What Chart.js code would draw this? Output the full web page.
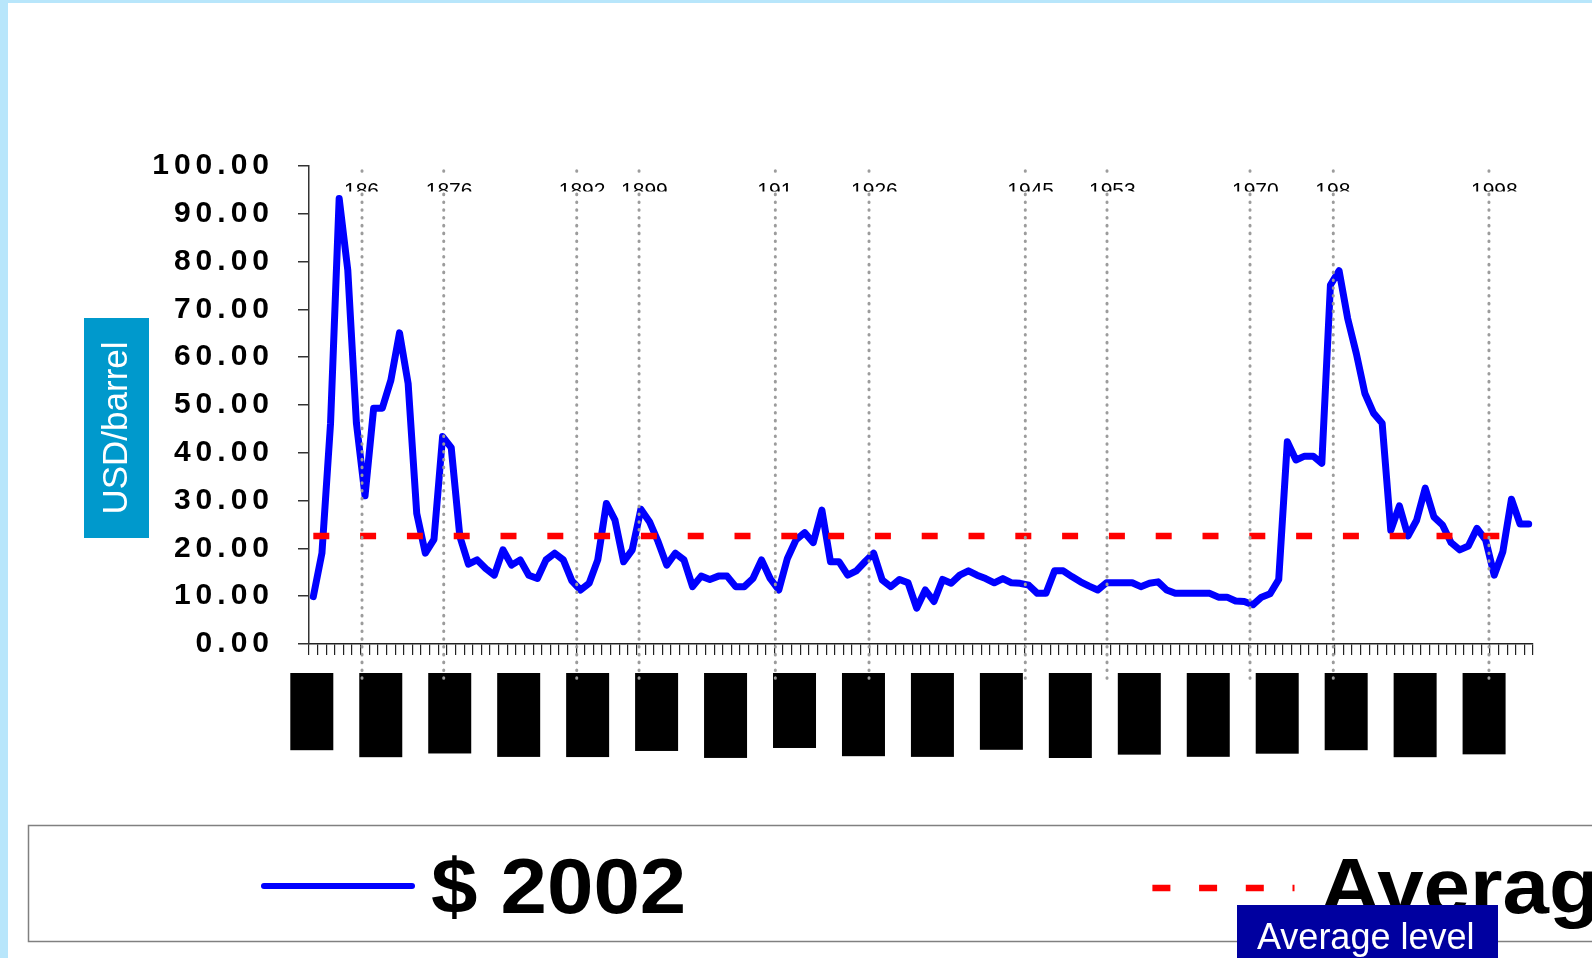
<!DOCTYPE html>
<html>
<head>
<meta charset="utf-8">
<script src="https://cdn.jsdelivr.net/npm/chart.js@4.4.1/dist/chart.umd.min.js"></script>
<style>
  html, body { margin: 0; padding: 0; background: #ffffff; }
  body { width: 1592px; height: 958px; overflow: hidden; position: relative; }
  #edgeLeft { position: absolute; left: 0; top: 0; width: 8px; height: 958px; background: #b8e6fb; }
  #edgeTop { position: absolute; left: 0; top: 0; width: 1592px; height: 3px; background: #b8e6fb; }
  #chart { position: absolute; left: 0; top: 0; }
</style>
</head>
<body>
<div id="edgeLeft"></div>
<div id="edgeTop"></div>
<canvas id="chart" width="1592" height="958"></canvas>
<script>
// Crude oil price, USD per barrel in 2002 money, yearly 1861-2002
const firstYear = 1861;
const lastYear = 2002;
const years = [];
for (let y = firstYear; y <= lastYear; y++) years.push(String(y));

const price2002 = [
  9.9, 19.0, 46.2, 93.2, 78.2, 46.2, 31.0, 49.3, 49.3, 55.2,   // 1861-1870
  65.1, 54.5, 27.3, 19.0, 21.9, 43.4, 41.1, 22.5, 16.7, 17.6,  // 1871-1880
  15.8, 14.4, 19.7, 16.5, 17.6, 14.4, 13.7, 17.6, 19.0, 17.6,  // 1881-1890
  13.2, 11.3, 12.7, 17.6, 29.4, 25.9, 17.2, 19.7, 28.2, 25.6,  // 1891-1900
  21.4, 16.5, 19.0, 17.6, 12.0, 14.2, 13.5, 14.2, 14.2, 12.0,  // 1901-1910
  12.0, 13.7, 17.6, 13.7, 11.3, 17.9, 21.8, 23.3, 21.2, 28.0,  // 1911-1920
  17.2, 17.2, 14.4, 15.3, 17.2, 19.0, 13.4, 12.0, 13.5, 12.8,  // 1921-1930
  7.5, 11.3, 8.9, 13.5, 12.7, 14.4, 15.3, 14.4, 13.7, 12.8,    // 1931-1940
  13.7, 12.8, 12.7, 12.3, 10.6, 10.6, 15.3, 15.3, 14.1, 13.0,  // 1941-1950
  12.1, 11.3, 12.8, 12.8, 12.8, 12.8, 12.0, 12.7, 13.0, 11.3,  // 1951-1960
  10.6, 10.6, 10.6, 10.6, 10.6, 9.8, 9.8, 9.0, 8.9, 8.2,       // 1961-1970
  9.8, 10.5, 13.5, 42.3, 38.5, 39.3, 39.3, 37.8, 75.1, 78.1,   // 1971-1980
  68.1, 60.8, 52.4, 48.3, 46.2, 23.8, 28.9, 22.6, 25.9, 32.6,  // 1981-1990
  26.6, 24.9, 21.2, 19.7, 20.5, 24.2, 21.8, 14.4, 19.3, 30.3,  // 1991-2000
  25.1, 25.1                                                   // 2001-2002
];

// Long-run average price over the whole period
const averageLevel = 22.6;

// Dotted event markers: position on the year axis and their captions
const eventPositions = [1866.65, 1876.13, 1891.56, 1898.79, 1914.6, 1925.47, 1943.6, 1953.08, 1969.67, 1979.33, 1997.39];
const eventLabels = ['186', '1876', '1892', '1899', '191', '1926', '1945', '1953', '1970', '198', '1998'];

const seriesLabels = ['$ 2002', 'Average level'];
const yAxisTitle = 'USD/barrel';

const FONT = "'Liberation Sans', Arial, sans-serif";

// Wide letter spacing for the value axis labels only
const spacedAxisText = {
  id: 'spacedAxisText',
  beforeDraw(chart) { chart.ctx.letterSpacing = '5px'; },
  beforeDatasetsDraw(chart) { chart.ctx.letterSpacing = '0px'; }
};

// Vertical dotted markers with their clipped captions
const eventMarkers = {
  id: 'eventMarkers',
  afterDatasetsDraw(chart) {
    const { ctx, chartArea, scales: { x } } = chart;
    ctx.save();
    ctx.letterSpacing = '0px';
    ctx.font = `21px ${FONT}`;
    ctx.textAlign = 'left';
    ctx.textBaseline = 'alphabetic';
    eventPositions.forEach((pos, k) => {
      const px = x.getPixelForValue(pos - firstYear);
      ctx.setLineDash([0.6, 7.2]);
      ctx.lineCap = 'round';
      ctx.lineWidth = 3;
      ctx.strokeStyle = '#9c9c9c';
      ctx.beginPath();
      ctx.moveTo(px, chartArea.top + 4.7);
      ctx.lineTo(px, chartArea.bottom + 36);
      ctx.stroke();
      ctx.setLineDash([]);

      const tx = px - 18;
      const w = ctx.measureText(eventLabels[k]).width;
      const boxTop = chartArea.top + 8.5;
      ctx.fillStyle = '#ffffff';
      ctx.fillRect(tx - 2, boxTop, w + 4, 17);
      ctx.save();
      ctx.beginPath();
      ctx.rect(tx - 2, boxTop, w + 4, 17);
      ctx.clip();
      ctx.fillStyle = '#000000';
      ctx.fillText(eventLabels[k], tx, chartArea.top + 31);
      ctx.restore();
    });
    ctx.restore();
  }
};

// Value axis title on a coloured panel
const axisTitlePanel = {
  id: 'axisTitlePanel',
  afterDraw(chart) {
    const { ctx } = chart;
    ctx.save();
    ctx.letterSpacing = '0px';
    ctx.fillStyle = '#0099cc';
    ctx.fillRect(84, 318, 65, 220);
    ctx.translate(117, 428);
    ctx.rotate(-Math.PI / 2);
    ctx.fillStyle = '#ffffff';
    ctx.font = `35px ${FONT}`;
    ctx.textAlign = 'center';
    ctx.textBaseline = 'middle';
    ctx.fillText(yAxisTitle, 0, 0);
    ctx.restore();
  }
};

// Framed legend along the bottom, plus the tag for the average line
const legendPanel = {
  id: 'legendPanel',
  afterDraw(chart) {
    const { ctx } = chart;
    const [real, avg] = chart.data.datasets;
    ctx.save();
    ctx.letterSpacing = '0px';
    ctx.strokeStyle = '#808080';
    ctx.lineWidth = 1.5;
    ctx.strokeRect(28.5, 825.5, 1600, 116);

    ctx.strokeStyle = real.borderColor;
    ctx.lineWidth = 6;
    ctx.lineCap = 'round';
    ctx.beginPath();
    ctx.moveTo(264, 886);
    ctx.lineTo(412, 886);
    ctx.stroke();

    ctx.font = `bold 78px ${FONT}`;
    ctx.fillStyle = '#000000';
    ctx.textAlign = 'left';
    ctx.textBaseline = 'alphabetic';
    // legend captions are set slightly wide
    ctx.save();
    ctx.translate(431, 913);
    ctx.scale(1.07, 1);
    ctx.fillText(real.label, 0, 0);
    ctx.restore();

    ctx.strokeStyle = avg.borderColor;
    ctx.lineWidth = 6.5;
    ctx.lineCap = 'butt';
    ctx.setLineDash([18, 28.7]);
    ctx.beginPath();
    ctx.moveTo(1152.4, 888);
    ctx.lineTo(1294.5, 888);
    ctx.stroke();
    ctx.setLineDash([]);

    ctx.save();
    ctx.translate(1320, 913);
    ctx.scale(1.07, 1);
    ctx.fillText(avg.label, 0, 0);
    ctx.restore();

    ctx.fillStyle = '#0000a0';
    ctx.fillRect(1237, 905, 261, 60);
    ctx.fillStyle = '#ffffff';
    ctx.font = `36px ${FONT}`;
    ctx.fillText(avg.label, 1257, 949);
    ctx.restore();
  }
};

new Chart(document.getElementById('chart'), {
  type: 'line',
  data: {
    labels: years,
    datasets: [
      {
        label: seriesLabels[0],
        data: price2002,
        borderColor: '#0000ff',
        borderWidth: 7,
        borderJoinStyle: 'round',
        borderCapStyle: 'round',
        pointRadius: 0,
        tension: 0,
        order: 1
      },
      {
        label: seriesLabels[1],
        data: new Array(years.length).fill(averageLevel),
        borderColor: '#ff0000',
        borderWidth: 6.5,
        borderDash: [16, 30.8],
        borderCapStyle: 'butt',
        pointRadius: 0,
        tension: 0,
        order: 0
      }
    ]
  },
  options: {
    responsive: false,
    animation: false,
    devicePixelRatio: 1,
    events: [],
    layout: { padding: { top: 166, left: 0, right: 59, bottom: 194 } },
    plugins: {
      legend: { display: false },
      tooltip: { enabled: false }
    },
    scales: {
      x: {
        type: 'category',
        offset: true,
        grid: {
          offset: true,
          display: true,
          drawOnChartArea: false,
          drawTicks: true,
          tickLength: 11,
          color: '#222222',
          lineWidth: 1.2
        },
        border: { display: true, color: '#222222', width: 1.5 },
        ticks: {
          autoSkip: false,
          minRotation: 90,
          maxRotation: 90,
          padding: 18,
          color: 'rgba(0,0,0,0)',
          font: { family: 'Inter', size: 32, weight: 'bold', lineHeight: 0.375 },
          callback: (value, index) => (index % 8 === 0 ? years[index] : ''),
          showLabelBackdrop: (ctx) => ctx.index % 8 === 0,
          backdropColor: '#000000',
          backdropPadding: { top: 23, bottom: 8, left: 8, right: 0 }
        },
        afterFit: (scale) => { scale.height = 120; }
      },
      y: {
        min: 0,
        max: 100,
        grid: {
          display: true,
          drawOnChartArea: false,
          drawTicks: true,
          tickLength: 11,
          color: '#333333',
          lineWidth: 1.5
        },
        border: { display: true, color: '#333333', width: 1.5 },
        ticks: {
          stepSize: 10,
          padding: 24,
          color: '#000000',
          font: { family: FONT, size: 30, weight: 'bold' },
          callback: (v) => Number(v).toFixed(2)
        },
        afterFit: (scale) => { scale.width = 309; }
      }
    }
  },
  plugins: [spacedAxisText, eventMarkers, axisTitlePanel, legendPanel]
});
</script>
</body>
</html>
